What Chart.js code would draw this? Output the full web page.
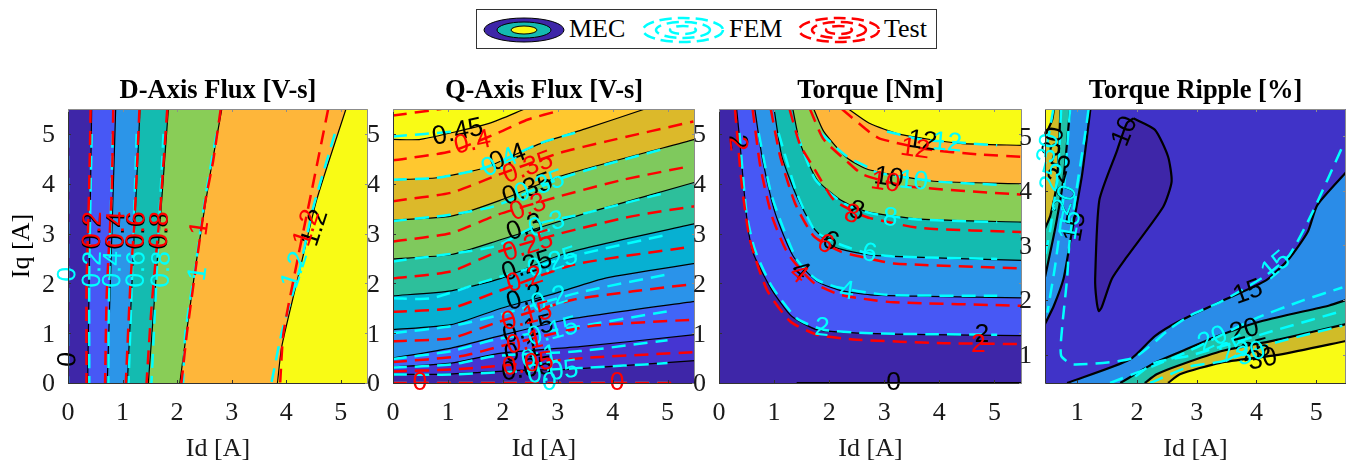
<!DOCTYPE html>
<html>
<head>
<meta charset="utf-8">
<script src="https://cdn.jsdelivr.net/npm/chart.js@4"></script>
<style>
  html, body { margin: 0; padding: 0; background: #fff; width: 1346px; height: 460px; overflow: hidden; }
  canvas { position: absolute; top: 76px; }
  #legend { position: absolute; left: 476px; top: 9px; width: 461px; height: 40px; border: 1px solid #333; box-sizing: border-box; }
  #legend svg { position: absolute; left: 0; top: 0; }
  #legend span { position: absolute; top: 4px; font: 26px "Liberation Serif", serif; color: #000; line-height: 30px; }
</style>
</head>
<body>
<canvas id="c0"></canvas>
<canvas id="c1"></canvas>
<canvas id="c2"></canvas>
<canvas id="c3"></canvas>
<div id="legend">
  <svg width="461" height="40">
    <g stroke="#000" stroke-width="1">
      <ellipse cx="47" cy="20" rx="40" ry="12" fill="#3e26a8"/>
      <ellipse cx="47" cy="20" rx="27" ry="8" fill="#14bbb0"/>
      <ellipse cx="47" cy="20" rx="13" ry="4" fill="#f9fb15"/>
    </g>
    <g fill="none" stroke="#00ffff" stroke-width="2.5" stroke-dasharray="12 6">
      <ellipse cx="206" cy="20" rx="40" ry="12"/>
      <ellipse cx="206" cy="20" rx="27" ry="8"/>
      <ellipse cx="206" cy="20" rx="13" ry="4"/>
    </g>
    <g fill="none" stroke="#ff0000" stroke-width="2.5" stroke-dasharray="12 6">
      <ellipse cx="362" cy="20" rx="40" ry="12"/>
      <ellipse cx="362" cy="20" rx="27" ry="8"/>
      <ellipse cx="362" cy="20" rx="13" ry="4"/>
    </g>
  </svg>
  <span style="left:92px">MEC</span>
  <span style="left:252px">FEM</span>
  <span style="left:407px">Test</span>
</div>
<script>
const titles = ["D-Axis Flux [V-s]", "Q-Axis Flux [V-s]", "Torque [Nm]", "Torque Ripple [%]"];
const xLabel = "Id [A]";
const yLabel = "Iq [A]";
const xTicks = [0, 1, 2, 3, 4, 5];
const yTicks = [0, 1, 2, 3, 4, 5];
const xTicksRipple = [1, 2, 3, 4, 5];
const yTicksRipple = [1, 2, 3, 4, 5];

// ---- d-axis flux, levels 0 .. 1.2
const dColors = ["#3e26a8", "#4758f5", "#2c95e8", "#14bbb0", "#89cd57", "#feb63a", "#f9fb15"];
const dMec = [
  [[0, 5.5], [0, 0]],
  [[0.434, 5.5], [0.36, 0]],
  [[0.874, 5.5], [0.72, 0]],
  [[1.32, 5.5], [1.088, 0]],
  [[1.84, 5.5], [1.473, 0]],
  [[2.82, 5.5], [2.6, 4.15], [2.33, 2.27], [2.05, 0]],
  [[5.096, 5.5], [4.56, 3.68], [4.25, 2.27], [3.92, 0.74], [3.84, 0]],
];
const dFem = [
  [[0, 5], [0, 0]],
  [[0.434, 5], [0.39, 2.3], [0.39, 0]],
  [[0.82, 5], [0.75, 1.7], [0.74, 0]],
  [[1.26, 5], [1.11, 0]],
  [[1.75, 5], [1.53, 0]],
  [[2.72, 5], [2.51, 3.68], [2.42, 3], [2.33, 2.3], [2.15, 1], [2.11, 0]],
  [[4.89, 5], [4.49, 3.5], [4.25, 2.3], [3.92, 1.02], [3.73, 0]],
];
const dTest = [
  [[0.415, 5.5], [0.39, 4], [0.34, 1.9], [0.34, 0]],
  [[0.83, 5.5], [0.8, 3.8], [0.71, 1.8], [0.68, 0]],
  [[1.31, 5.5], [1.23, 3.5], [1.14, 1.9], [1.06, 0]],
  [[1.82, 5.5], [1.69, 3.5], [1.53, 1.5], [1.44, 0]],
  [[2.8, 5.5], [2.66, 4.45], [2.51, 3.6], [2.18, 1], [2.08, 0]],
  [[4.77, 5.5], [4.47, 3.87], [4.22, 2.54], [3.95, 1], [3.89, 0]],
];
const dLabelsMec = [[0, 0.47, "0", -85], [0.46, 3.05, "0.2", -88], [0.89, 3.05, "0.4", -88], [1.26, 3.05, "0.6", -88], [1.69, 3.05, "0.8", -88], [4.53, 3.11, "1.2", -72]];
const dLabelsFem = [[0, 2.18, "0", -88], [0.46, 2.28, "0.2", -88], [0.83, 2.28, "0.4", -88], [1.26, 2.28, "0.6", -88], [1.72, 2.28, "0.8", -88], [2.39, 2.2, "1", -82], [4.16, 2.27, "1.2", -72]];
const dLabelsTest = [[0.46, 3.08, "0.2", -88], [0.89, 3.08, "0.4", -88], [1.26, 3.08, "0.6", -88], [1.69, 3.08, "0.8", -88], [2.42, 3.11, "1", -82], [4.38, 3.11, "1.2", -72]];

// ---- q-axis flux, levels 0 .. 0.45
const qColors = ["#3e26a8", "#4535d2", "#4165f8", "#2a93ea", "#07b0d2", "#2dbf9b", "#7fc95d", "#dcb92a", "#ffc82f", "#f9fb15"];
const qMec = [
  [[0, 0.17], [1, 0.18], [2.2, 0.25], [3.28, 0.28], [5.5, 0.45]],
  [[0, 0.32], [1.06, 0.4], [1.97, 0.6], [3.4, 0.73], [5.5, 0.97]],
  [[0, 0.5], [1.06, 0.7], [1.85, 0.92], [3.16, 1.27], [5.5, 1.64]],
  [[0, 1.07], [1.06, 1.17], [1.97, 1.5], [2.98, 1.81], [3.89, 2.11], [5.5, 2.4]],
  [[0, 1.75], [1.06, 1.85], [1.97, 2.1], [3.16, 2.61], [5.5, 3.2]],
  [[0, 2.49], [1.06, 2.58], [1.97, 2.88], [3.43, 3.38], [5.5, 4.03]],
  [[0, 3.27], [1.06, 3.35], [1.91, 3.65], [3.04, 4.15], [5.5, 4.89]],
  [[0, 4.08], [0.8, 4.12], [1.67, 4.32], [2.67, 4.8], [3.5, 5.1], [4.59, 5.5]],
  [[0, 4.89], [0.5, 4.89], [1.75, 5.21], [2.4, 5.5]],
];
const qFem = [
  [[0, 0], [5, 0]],
  [[0, 0.17], [1.06, 0.17], [3.4, 0.3], [5, 0.4]],
  [[0, 0.31], [1.06, 0.37], [1.85, 0.54], [3.4, 0.64], [5, 0.86]],
  [[0, 0.48], [1.06, 0.64], [1.85, 0.87], [3.4, 1.14], [5, 1.44]],
  [[0, 1], [1.06, 1.14], [1.85, 1.34], [3.4, 1.82], [5, 2.18]],
  [[0, 1.7], [0.7, 1.7], [1.67, 2.04], [3.4, 2.58], [5, 2.98]],
  [[0, 2.44], [1.85, 2.74], [2.7, 3.21], [3.4, 3.38], [5, 3.83]],
  [[0, 3.25], [1.06, 3.38], [1.85, 3.55], [3.04, 4.1], [3.86, 4.38], [5, 4.72]],
  [[0, 4.08], [0.8, 4.12], [1.67, 4.32], [2.7, 4.82], [3.4, 5.05]],
  [[0, 4.95], [1.15, 5.05]],
];
const qTest = [
  [[0, 0], [5.1, 0]],
  [[0, 0.23], [1.06, 0.27], [1.79, 0.33], [3.46, 0.5], [5.5, 0.62]],
  [[0, 0.42], [1.25, 0.54], [1.97, 0.74], [3.58, 1.14], [5.44, 1.27]],
  [[0, 0.84], [1.06, 0.9], [1.85, 1.2], [3.28, 1.67], [4.37, 1.84], [5.5, 1.99]],
  [[0, 1.43], [1.06, 1.5], [1.91, 1.84], [3.31, 2.38], [5.4, 2.73]],
  [[0, 2.1], [1.06, 2.24], [1.85, 2.61], [3.04, 3], [4.37, 3.35], [5.5, 3.55]],
  [[0, 2.84], [1.06, 3.01], [1.91, 3.38], [3.04, 3.75], [4.19, 4.08], [5.4, 4.35]],
  [[0, 3.65], [1.06, 3.82], [1.85, 4.15], [3.04, 4.62], [3.89, 4.85], [5.47, 5.25]],
  [[0, 4.47], [1.06, 4.65], [1.91, 5.02], [2.46, 5.29], [3.04, 5.47]],
  [[0, 5.37], [0.88, 5.5]],
];
const qLabelsMec = [[1.18, 5.03, "0.45", -12], [2.09, 4.52, "0.4", -20], [2.45, 3.88, "0.35", -20], [2.4, 3.12, "0.3", -20], [2.44, 2.34, "0.25", -18], [2.4, 1.71, "0.2", -18], [2.46, 1.07, "0.15", -15], [2.36, 0.63, "0.1", -12], [2.44, 0.27, "0.05", -8]];
const qLabelsFem = [[1.94, 4.42, "0.4", -25], [2.67, 3.94, "0.35", -20], [2.8, 3.18, "0.3", -18], [2.91, 2.41, "0.25", -18], [2.85, 1.67, "0.2", -18], [2.91, 1.03, "0.15", -15], [2.67, 0.51, "0.1", -12], [2.91, 0.21, "0.05", -8], [2.85, 0, "0", 0]];
const qLabelsTest = [[1.45, 4.82, "0.4", -12], [2.46, 4.32, "0.35", -20], [2.46, 3.52, "0.3", -20], [2.46, 2.74, "0.25", -18], [2.4, 2.07, "0.2", -18], [2.44, 1.33, "0.15", -15], [2.4, 0.81, "0.1", -12], [2.46, 0.37, "0.05", -8], [0.49, 0, "0", 0], [4.08, 0, "0", 0]];

// ---- torque, levels 0 .. 12
const tColors = ["#3e26a8", "#4758f5", "#2c95e8", "#14bbb0", "#89cd57", "#feb63a", "#f9fb15"];
const tMec = [
  [[0.32, 5.5], [0.37, 4.95], [0.5, 3.35], [0.62, 2.61], [0.96, 1.87], [1.32, 1.34], [1.78, 1.07], [2.56, 1], [3.78, 0.97], [5.5, 0.95]],
  [[0.65, 5.5], [0.78, 4.55], [1.02, 3.41], [1.35, 2.54], [1.78, 2.04], [2.2, 1.86], [2.75, 1.77], [3.78, 1.74], [5.5, 1.71]],
  [[1, 5.5], [1.14, 4.55], [1.41, 3.75], [1.72, 3.11], [2.08, 2.74], [2.68, 2.58], [3.17, 2.54], [5.5, 2.46]],
  [[1.34, 5.5], [1.47, 4.82], [1.78, 4.08], [2.2, 3.68], [2.68, 3.44], [3.66, 3.29], [5.5, 3.23]],
  [[1.72, 5.5], [1.9, 5.05], [2.32, 4.52], [2.72, 4.28], [3.9, 4.05], [5.5, 4]],
  [[2.35, 5.5], [2.72, 5.22], [3.29, 4.99], [4.38, 4.81], [5.5, 4.77]],
];
const tMecZero = [[1.41, 0.01], [5.5, 0.01]];
const tFem = [
  [[0.37, 5.02], [0.5, 3.41], [0.65, 2.68], [0.96, 1.94], [1.41, 1.3], [1.9, 1.07], [2.75, 1], [3.78, 0.98], [5.05, 0.97]],
  [[0.72, 5.02], [0.96, 3.75], [1.41, 2.48], [1.78, 2.07], [2.2, 1.91], [3.05, 1.77], [5.05, 1.75]],
  [[1.08, 5.02], [1.41, 3.82], [1.75, 3.05], [2.2, 2.78], [2.68, 2.61], [3.17, 2.54], [5.05, 2.49]],
  [[1.41, 5.02], [1.75, 4.08], [2.26, 3.61], [2.75, 3.41], [3.66, 3.28], [5.05, 3.23]],
  [[1.84, 5.02], [2.32, 4.55], [2.72, 4.32], [2.87, 4.22], [3.9, 4.05], [5.05, 3.98]],
  [[3.05, 5.05], [3.66, 4.89], [4.56, 4.81], [5.05, 4.77]],
];
const tTest = [
  [[0.29, 5.5], [0.41, 4.02], [0.56, 2.88], [0.87, 1.87], [1.29, 1.24], [1.78, 0.97], [2.5, 0.87], [4.08, 0.8], [5.5, 0.78]],
  [[0.61, 5.5], [0.75, 4.35], [0.96, 3.35], [1.26, 2.58], [1.72, 2.01], [2.2, 1.77], [2.75, 1.67], [3.17, 1.62], [5.5, 1.55]],
  [[0.94, 5.5], [1.11, 4.55], [1.38, 3.61], [1.72, 2.95], [2.2, 2.64], [2.56, 2.54], [3.17, 2.4], [5.5, 2.3]],
  [[1.28, 5.5], [1.47, 4.79], [1.72, 4.32], [2.08, 3.68], [2.5, 3.41], [2.74, 3.31], [3.66, 3.11], [5.5, 3.03]],
  [[1.65, 5.5], [1.9, 4.89], [2.32, 4.45], [2.62, 4.18], [3.41, 3.95], [5.5, 3.78]],
  [[2.23, 5.5], [2.75, 5.02], [2.93, 4.9], [3.78, 4.69], [4.69, 4.59], [5.5, 4.54]],
];
const tLabelsMec = [[0.33, 4.84, "2", 85], [1.47, 2.25, "4", 40], [2.02, 2.84, "6", 25], [2.5, 3.45, "8", 15], [3.08, 4.12, "10", 8], [3.69, 4.85, "12", 8], [4.77, 0.97, "2", 0], [3.17, 0, "0", 0]];
const tLabelsFem = [[1.87, 1.1, "2", 5], [2.32, 1.84, "4", 8], [2.73, 2.6, "6", 10], [3.11, 3.31, "8", 5], [3.53, 4.05, "10", 5], [4.14, 4.82, "12", 5]];
const tLabelsTest = [[0.33, 4.8, "2", 85], [1.44, 2.18, "4", 40], [1.93, 2.78, "6", 25], [2.41, 3.38, "8", 15], [3.02, 4.02, "10", 8], [3.56, 4.69, "12", 8], [4.71, 0.77, "2", 0]];

// ---- torque ripple, levels 10 .. 30
const rBandColors = ["#4033c8", "#2a8ce8", "#22c2a8", "#d0bc28", "#f9fb15"];
const rCoreColor = "#3e26a8";
const rLoop10 = [[1.94, 5.33], [2.3, 5.12], [2.52, 4.63], [2.58, 4.17], [2.44, 3.71], [1.83, 2.79], [1.58, 2.39], [1.41, 1.87], [1.36, 1.8], [1.32, 2.02], [1.3, 2.39], [1.37, 3.83], [1.66, 4.72], [1.83, 5.24]];
const rMecUpper = [
  [[1.22, 5.5], [1.08, 4.29], [0.88, 3.06], [0.77, 2.39], [0.61, 1.9], [0.46, 1.56]],
  [[0.88, 5.5], [0.77, 4.23], [0.63, 3.31], [0.46, 2.42]],
  [[0.72, 5.5], [0.66, 4.17], [0.55, 3.55], [0.46, 3.31]],
  [[0.61, 5.5], [0.58, 5.3], [0.46, 5]],
];
const rMecLower = [
  [[0.83, 0.48], [1.88, 0.91], [2.3, 1.34], [2.72, 1.62], [3.44, 1.99], [4.16, 2.36], [4.55, 2.76], [4.86, 3.25], [5.02, 3.74], [5.5, 4.34]],
  [[1.72, 0.48], [2.3, 0.85], [2.72, 1.05], [3.28, 1.31], [4.11, 1.62], [5.22, 1.9], [5.5, 2]],
  [[2.13, 0.48], [2.33, 0.64], [2.72, 0.81], [3.44, 1.07], [4.39, 1.28], [5.5, 1.56]],
  [[2.52, 0.48], [2.72, 0.64], [3.39, 0.85], [4.39, 1], [5.5, 1.25]],
];
const rFem = [
  [[1.19, 5.5], [1.13, 5.03], [0.99, 4.04], [0.87, 3.06], [0.83, 2.39], [0.75, 1.53], [0.73, 0.98], [0.94, 0.82], [1.94, 0.94], [2.55, 1.47], [2.88, 1.71], [3.44, 1.99], [4.16, 2.45], [4.55, 2.82], [4.94, 3.61], [5.44, 4.81]],
  [[0.88, 5.5], [0.75, 3.68], [0.63, 2.63], [0.5, 1.77]],
  [[1.55, 0.48], [2.27, 0.79], [2.88, 1.07], [3.96, 1.65], [4.77, 1.99], [5.44, 2.23]],
  [[0.73, 5.5], [0.68, 4.4], [0.55, 3.3], [0.46, 2.8]],
  [[1.97, 0.6], [2.3, 0.85], [2.88, 0.98], [4.39, 1.47], [5.44, 1.8]],
  [[0.6, 5.5], [0.52, 5], [0.46, 4.6]],
  [[2.22, 0.48], [2.88, 0.78], [3.44, 0.88], [4.22, 1.19], [5.44, 1.53]],
];
const rLabelsMec = [[1.8, 5.09, "10", -68], [0.97, 3.34, "15", -80], [0.8, 3.83, "20", -72], [0.72, 4.41, "25", -75], [0.61, 4.9, "30", -80], [3.86, 2.14, "15", -20], [3.8, 1.44, "20", -15], [3.99, 1.07, "25", -15], [4.1, 0.91, "30", -12]];
const rLabelsFem = [[0.89, 3.37, "15", -80], [0.8, 3.83, "20", -70], [0.58, 4.26, "25", -75], [0.52, 4.78, "30", -80], [4.33, 2.63, "15", -40], [3.27, 1.28, "20", -25], [3.63, 1.1, "25", -30], [3.91, 1.01, "30", -20]];

const TENSION = 0.2;
const rectOf = (x0, x1, y0, y1) => [[x0, y0], [x1, y0], [x1, y1], [x0, y1]];

function toPoints(pts) {
  return pts.map(([x, y]) => ({ x, y }));
}

function fillSet(pts, color, tension) {
  return { data: toPoints(pts), showLine: true, fill: "shape", backgroundColor: color, borderWidth: 0, pointRadius: 0, tension };
}

// repeating the contour end and the corners keeps the smoothed edge the same as the drawn line
function bandSet(contour, corners, color) {
  const last = contour[contour.length - 1];
  return fillSet([...contour, last, ...corners.flatMap((c) => [c, c])], color, TENSION);
}

function lineSets(lines, color, width, dash) {
  return lines.map((pts) => ({
    data: toPoints(pts),
    showLine: true,
    fill: false,
    borderColor: color,
    borderWidth: width,
    borderDash: dash,
    pointRadius: 0,
    tension: TENSION,
  }));
}

const DASH = [14, 8];

function panelSets(fills, mec, fem, test, mecWidth) {
  const sets = [
    ...fills,
    ...lineSets(mec, "#000000", mecWidth, []),
    ...lineSets(fem, "#00ffff", 2.5, DASH),
    ...lineSets(test, "#ff0000", 2.5, DASH),
  ];
  // later entries are painted on top
  sets.forEach((s, i) => (s.order = sets.length - i));
  return sets;
}

const labelPlugin = {
  id: "contourLabels",
  afterDatasetsDraw(chart, args, opts) {
    const { ctx, scales, chartArea: a } = chart;
    ctx.save();
    ctx.font = '26.5px "Liberation Sans", sans-serif';
    ctx.textAlign = "center";
    ctx.textBaseline = "middle";
    opts.groups.forEach(([items, color]) => {
      ctx.fillStyle = color;
      items.forEach(([x, y, text, rot]) => {
        ctx.save();
        ctx.translate(scales.x.getPixelForValue(x), scales.y.getPixelForValue(y));
        ctx.rotate((rot * Math.PI) / 180);
        ctx.fillText(text, 0, 0);
        ctx.restore();
      });
    });
    // frame and inward ticks
    ctx.lineWidth = 1;
    ctx.strokeStyle = "#333333";
    ctx.beginPath();
    ctx.moveTo(a.left + 0.5, a.top);
    ctx.lineTo(a.left + 0.5, a.bottom + 0.5);
    ctx.lineTo(a.right, a.bottom + 0.5);
    scales.x.ticks.forEach((t) => {
      const px = Math.round(scales.x.getPixelForValue(t.value)) + 0.5;
      ctx.moveTo(px, a.bottom);
      ctx.lineTo(px, a.bottom - 3);
    });
    scales.y.ticks.forEach((t) => {
      const py = Math.round(scales.y.getPixelForValue(t.value)) + 0.5;
      ctx.moveTo(a.left, py);
      ctx.lineTo(a.left + 3, py);
    });
    ctx.stroke();
    ctx.strokeStyle = "#8c8c8c";
    ctx.beginPath();
    ctx.moveTo(a.left, a.top + 0.5);
    ctx.lineTo(a.right - 0.5, a.top + 0.5);
    ctx.lineTo(a.right - 0.5, a.bottom);
    scales.x.ticks.forEach((t) => {
      const px = Math.round(scales.x.getPixelForValue(t.value)) + 0.5;
      ctx.moveTo(px, a.top);
      ctx.lineTo(px, a.top + 3);
    });
    scales.y.ticks.forEach((t) => {
      const py = Math.round(scales.y.getPixelForValue(t.value)) + 0.5;
      ctx.moveTo(a.right, py);
      ctx.lineTo(a.right - 3, py);
    });
    ctx.stroke();
    ctx.restore();
  },
};

function makePanel(index, cfg) {
  const canvas = document.getElementById("c" + index);
  canvas.width = cfg.axisWidth + cfg.plotWidth + cfg.rightPad;
  canvas.height = 388;
  canvas.style.left = cfg.plotLeft - cfg.axisWidth + "px";
  const tickFont = { family: "Liberation Serif", size: 26 };
  const axisFont = { family: "Liberation Serif", size: 26, lineHeight: 1 };
  new Chart(canvas, {
    type: "scatter",
    data: { datasets: cfg.datasets },
    plugins: [labelPlugin],
    options: {
      responsive: false,
      animation: false,
      layout: { padding: { right: cfg.rightPad } },
      plugins: {
        legend: { display: false },
        tooltip: { enabled: false },
        title: {
          display: true,
          fullSize: false,
          text: titles[index],
          color: "#000",
          font: { family: "Liberation Serif", size: 26.5, weight: "bold", lineHeight: 1 },
          padding: { top: 2, bottom: 4.5 },
        },
        contourLabels: { groups: cfg.labels },
      },
      scales: {
        x: {
          type: "linear",
          min: cfg.xRange[0],
          max: cfg.xRange[1],
          border: { display: false },
          grid: { display: false, drawTicks: false },
          ticks: { color: "#1a1a1a", font: tickFont, padding: 15, maxRotation: 0, autoSkip: false },
          afterBuildTicks: (s) => { s.ticks = cfg.xTicks.map((value) => ({ value })); },
          afterFit: (s) => { s.height = 81; },
          title: { display: true, text: xLabel, color: "#1a1a1a", font: axisFont, padding: { top: 0, bottom: 2 } },
        },
        y: {
          type: "linear",
          min: cfg.yRange[0],
          max: cfg.yRange[1],
          border: { display: false },
          grid: { display: false, drawTicks: false },
          ticks: { color: "#1a1a1a", font: tickFont, padding: 13, labelOffset: 1.5, autoSkip: false },
          afterBuildTicks: (s) => { s.ticks = cfg.yTicks.map((value) => ({ value })); },
          afterFit: (s) => { s.width = cfg.axisWidth; },
          title: { display: index === 0, text: yLabel, color: "#000", font: axisFont, padding: { top: 9, bottom: 0 } },
        },
      },
    },
  });
}

const BLACK = "#000000", CYAN = "#00ffff", RED = "#ff0000";

makePanel(0, {
  plotLeft: 68, plotWidth: 300, axisWidth: 68, rightPad: 1,
  xRange: [0, 5.5], yRange: [0, 5.5], xTicks, yTicks,
  datasets: panelSets(
    [fillSet(rectOf(0, 5.5, 0, 5.5), dColors[0], 0),
     ...dMec.slice(1).map((c, i) => bandSet(c, [[5.5, 0], [5.5, 5.5]], dColors[i + 1]))],
    dMec, dFem, dTest, 1.2),
  labels: [[dLabelsMec, BLACK], [dLabelsFem, CYAN], [dLabelsTest, RED]],
});

makePanel(1, {
  plotLeft: 393, plotWidth: 302, axisWidth: 25, rightPad: 1,
  xRange: [0, 5.5], yRange: [0, 5.5], xTicks, yTicks,
  datasets: panelSets(
    [fillSet(rectOf(0, 5.5, 0, 5.5), qColors[0], 0),
     ...qMec.map((c, i) => bandSet(c, [[5.5, 5.5], [0, 5.5]], qColors[i + 1]))],
    qMec, qFem, qTest, 1.2),
  labels: [[qLabelsMec, BLACK], [qLabelsFem, CYAN], [qLabelsTest, RED]],
});

makePanel(2, {
  plotLeft: 719, plotWidth: 303, axisWidth: 25, rightPad: 1,
  xRange: [0, 5.5], yRange: [0, 5.5], xTicks, yTicks,
  datasets: panelSets(
    [fillSet(rectOf(0, 5.5, 0, 5.5), tColors[0], 0),
     ...tMec.map((c, i) => bandSet(c, [[5.5, 5.5]], tColors[i + 1]))],
    [...tMec, tMecZero], tFem, tTest, 1.2),
  labels: [[tLabelsMec, BLACK], [tLabelsFem, CYAN], [tLabelsTest, RED]],
});

makePanel(3, {
  plotLeft: 1045, plotWidth: 301, axisWidth: 25, rightPad: 0,
  xRange: [0.46, 5.5], yRange: [0.48, 5.5], xTicks: xTicksRipple, yTicks: yTicksRipple,
  datasets: panelSets(
    [fillSet(rectOf(0.46, 5.5, 0.48, 5.5), rBandColors[0], 0),
     ...rMecUpper.map((c, i) => bandSet(c, [[0.46, 5.5]], rBandColors[i + 1])),
     ...rMecLower.map((c, i) => bandSet(c, [[5.5, 0.48]], rBandColors[i + 1])),
     fillSet(rLoop10, rCoreColor, TENSION)],
    [[...rLoop10, rLoop10[0]], ...rMecUpper, ...rMecLower], rFem, [], 2.2),
  labels: [[rLabelsMec, BLACK], [rLabelsFem, CYAN]],
});
</script>
</body>
</html>
